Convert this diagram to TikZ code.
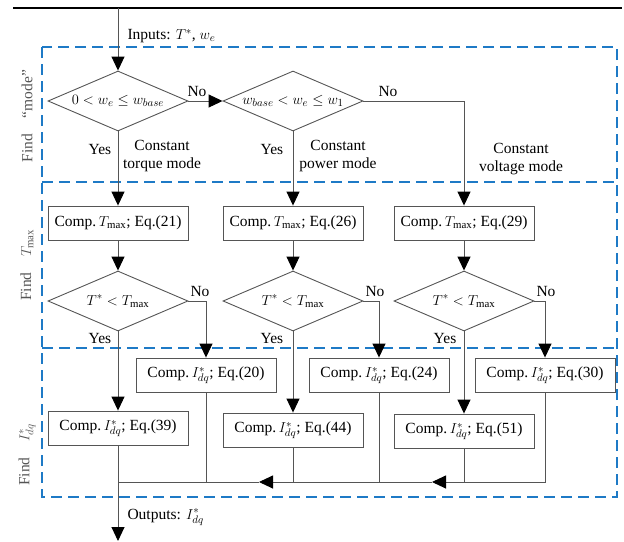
\documentclass[tikz,border=0pt]{standalone}
\usepackage{fontspec}
\setmainfont{Liberation Serif}
\usetikzlibrary{shapes.geometric,arrows.meta}
\definecolor{zoneblue}{RGB}{30,122,198}
\definecolor{linegray}{RGB}{85,85,85}

\begin{document}
\begin{tikzpicture}[x=1pt,y=-1pt,
	every node/.style={font=\fontsize{15.5}{18.5}\selectfont},
	dia/.style={diamond,draw=linegray,line width=0.9pt,aspect=2.35,minimum width=140pt,minimum height=60pt,inner sep=0pt},
	box/.style={rectangle,draw=linegray,line width=0.9pt,minimum width=140pt,minimum height=34pt,inner sep=2pt},
	wire/.style={draw=linegray,line width=0.9pt},
	arr/.style={wire,-{Triangle[length=14pt,width=13pt,color=black]}},
	zone/.style={draw=zoneblue,line width=1.6pt,dash pattern=on 11pt off 6pt},
	side/.style={rotate=90,text=linegray}]
	\useasboundingbox (0,0) rectangle (624,541);

	% Zones
	\coordinate (zl1) at (42,182);
	\coordinate (zr1) at (617,182);
	\coordinate (zl2) at (42,348);
	\coordinate (zr2) at (617,348);
	\draw[zone] (42,47) rectangle (617,497);
	\draw[zone] (zl1) -- (zr1);
	\draw[zone] (zl2) -- (zr2);
	\node[side] (fmode) at (27,116) {Find\quad “mode”};
	\node[side] (ftmax) at (27,265) {Find\quad $T_{\max}$};
	\node[side] (fidq) at (27,455) {Find\quad $I^*_{dq}$};

	% Input
	\coordinate (tl) at (13,8);
	\coordinate (tr) at (622,8);
	\coordinate (inp) at (118,8);
	\draw[line width=2pt] (tl) -- (tr);
	\node[anchor=west] (inlbl) at (124,36) {Inputs: $T^*$, $w_e$};

	% Find mode
	\node[dia] (d1) at (118,101) {$0 < w_e \le w_{base}$};
	\node[dia] (d2) at (293,101) {$w_{base} < w_e \le w_1$};
	\draw[arr] (inp) -- (d1);
	\draw[arr] (d1) -- (d2);
	\node (no1) at (197,91) {No};
	\node (no2) at (388,91) {No};
	\node (yes1) at (100,149) {Yes};
	\node (yes2) at (272,149) {Yes};
	\node[align=center] (m1) at (162,156) {Constant\\torque mode};
	\node[align=center] (m2) at (338,156) {Constant\\power mode};
	\node[align=center] (m3) at (521,159) {Constant\\voltage mode};

	% Find Tmax
	\node[box] (t21) at (118,223) {Comp.\,$T_{\max}$; Eq.(21)};
	\node[box] (t26) at (293,223) {Comp.\,$T_{\max}$; Eq.(26)};
	\node[box] (t29) at (464,223) {Comp.\,$T_{\max}$; Eq.(29)};
	\draw[arr] (d1) -- (t21);
	\draw[arr] (d2) -- (t26);
	\draw[arr] (d2.east) -| (t29.north);

	\node[dia] (c1) at (118,301) {$T^* < T_{\max}$};
	\node[dia] (c2) at (293,301) {$T^* < T_{\max}$};
	\node[dia] (c3) at (464,301) {$T^* < T_{\max}$};
	\draw[arr] (t21) -- (c1);
	\draw[arr] (t26) -- (c2);
	\draw[arr] (t29) -- (c3);
	\node (no3) at (200,291) {No};
	\node (no4) at (375,291) {No};
	\node (no5) at (546,291) {No};
	\node (yes3) at (100,338) {Yes};
	\node (yes4) at (272,338) {Yes};
	\node (yes5) at (445,338) {Yes};

	% Find Idq
	\node[box] (i20) at (206,375) {Comp.\,$I^*_{dq}$; Eq.(20)};
	\node[box] (i24) at (379,375) {Comp.\,$I^*_{dq}$; Eq.(24)};
	\node[box] (i30) at (545,375) {Comp.\,$I^*_{dq}$; Eq.(30)};
	\node[box] (i39) at (118,428) {Comp.\,$I^*_{dq}$; Eq.(39)};
	\node[box] (i44) at (293,430) {Comp.\,$I^*_{dq}$; Eq.(44)};
	\node[box] (i51) at (464,431) {Comp.\,$I^*_{dq}$; Eq.(51)};
	\draw[arr] (c1.east) -| (i20.north);
	\draw[arr] (c2.east) -| (i24.north);
	\draw[arr] (c3.east) -| (i30.north);
	\draw[arr] (c1) -- (i39);
	\draw[arr] (c2) -- (i44);
	\draw[arr] (c3) -- (i51);

	% Collector and output
	\coordinate (j39) at (118,482);
	\coordinate (k1) at (259,482);
	\coordinate (k2) at (432,482);
	\coordinate (out) at (118,541);
	\draw[arr] (i30.south) |- (k2);
	\draw[arr] (k2) -- (k1);
	\draw[wire] (k1) -- (j39);
	\draw[wire] (i20.south) -- (i20.south |- j39);
	\draw[wire] (i24.south) -- (i24.south |- j39);
	\draw[wire] (i44.south) -- (i44.south |- j39);
	\draw[wire] (i51.south) -- (i51.south |- j39);
	\draw[arr] (i39.south) -- (out);
	\node[anchor=west] (outlbl) at (124,517) {Outputs: $I^*_{dq}$};
\end{tikzpicture}
\end{document}
